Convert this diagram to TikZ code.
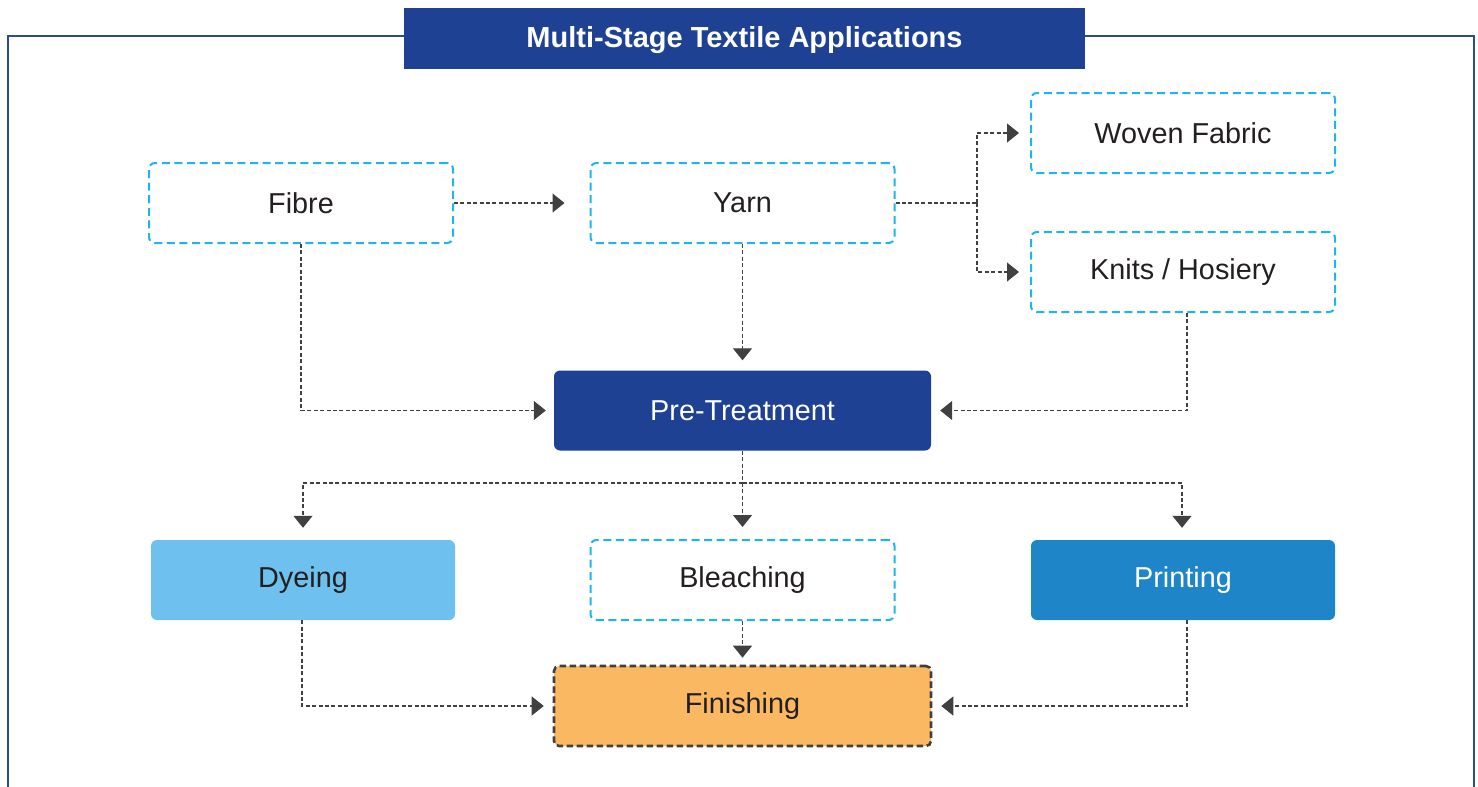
\documentclass[tikz,border=0pt]{standalone}
\usepackage{fontspec}
\setmainfont{Liberation Sans}
\usetikzlibrary{arrows.meta}
\definecolor{navy}{RGB}{30,65,148}
\definecolor{frameblue}{RGB}{42,74,154}
\definecolor{cyanb}{RGB}{30,180,236}
\definecolor{lightblue}{RGB}{110,193,238}
\definecolor{midblue}{RGB}{30,134,200}
\definecolor{orangef}{RGB}{251,184,98}
\definecolor{txt}{RGB}{35,31,32}
\definecolor{conn}{RGB}{64,64,64}
\tikzset{
  box/.style={rectangle, rounded corners=6pt, minimum width=304pt, minimum height=80pt, inner sep=0pt,
    font=\fontsize{28.8}{32}\selectfont, text=txt},
  dashbox/.style={box, draw=cyanb, line width=2pt, dash pattern=on 8pt off 4.6pt, fill=white},
  widebox/.style={box, minimum width=377pt},
  connline/.style={draw=conn, line width=1.3pt, dash pattern=on 4pt off 2.4pt,
    -{Triangle[length=12pt,width=19pt,fill=conn]}},
  plainline/.style={draw=conn, line width=1.3pt, dash pattern=on 4pt off 2.4pt},
}
\begin{document}
\begin{tikzpicture}[x=1pt,y=-1pt]
\useasboundingbox (0,0) rectangle (1478,787);
% frame
\draw[frameblue, line width=2.2pt] (8,800) -- (8,36) -- (1474,36) -- (1474,800);
% title
\node[fill=navy, minimum width=681pt, minimum height=61pt, inner sep=0pt, text=white,
  text height=18pt, text depth=0pt,
  font=\bfseries\fontsize{29}{32}\selectfont] (title) at (744.5,38.5) {Multi-Stage Textile Applications};
% nodes
\node[dashbox] (fibre) at (301,203) {Fibre};
\node[dashbox] (yarn) at (742.5,203) {Yarn};
\node[dashbox] (woven) at (1183,133) {Woven Fabric};
\node[dashbox] (knits) at (1183,272) {Knits / Hosiery};
\node[widebox, fill=navy, text=white] (pre) at (742.5,410.5) {Pre-Treatment};
\node[box, fill=lightblue] (dye) at (303,580) {Dyeing};
\node[dashbox] (bleach) at (742.5,580) {Bleaching};
\node[box, fill=midblue, text=white] (print) at (1183,580) {Printing};
\node[widebox, fill=orangef, draw=conn, line width=2.6pt, dash pattern=on 6.5pt off 3.5pt, rounded corners=5pt] (fin) at (742.5,706) {Finishing};
% connectors
\coordinate (branch) at (977,203);
\coordinate (hub) at (742.5,483);
\draw[connline, shorten >=25pt] (fibre.east) -- (yarn.west);
\draw[plainline] (yarn.east) -- (branch);
\draw[connline, shorten >=11pt] (branch) |- (woven.west);
\draw[connline, shorten >=11pt] (branch) |- (knits.west);
\draw[connline, shorten >=10pt] (yarn.south) -- (pre.north);
\draw[connline, shorten >=8pt] (fibre.south) |- (pre.west);
\draw[connline, shorten >=9pt] ([xshift=4pt]knits.south) |- (pre.east);
\draw[plainline] (pre.south) -- (hub);
\draw[connline, shorten >=12pt] (hub) -| (dye.north);
\draw[connline, shorten >=12pt] (hub) -- (bleach.north);
\draw[connline, shorten >=12pt] (hub) -| ([xshift=-1pt]print.north);
\draw[connline, shorten >=7pt] (bleach.south) -- (fin.north);
\draw[connline, shorten >=9pt] ([xshift=-1pt]dye.south) |- (fin.west);
\draw[connline, shorten >=9pt] ([xshift=4pt]print.south) |- (fin.east);
\end{tikzpicture}
\end{document}
